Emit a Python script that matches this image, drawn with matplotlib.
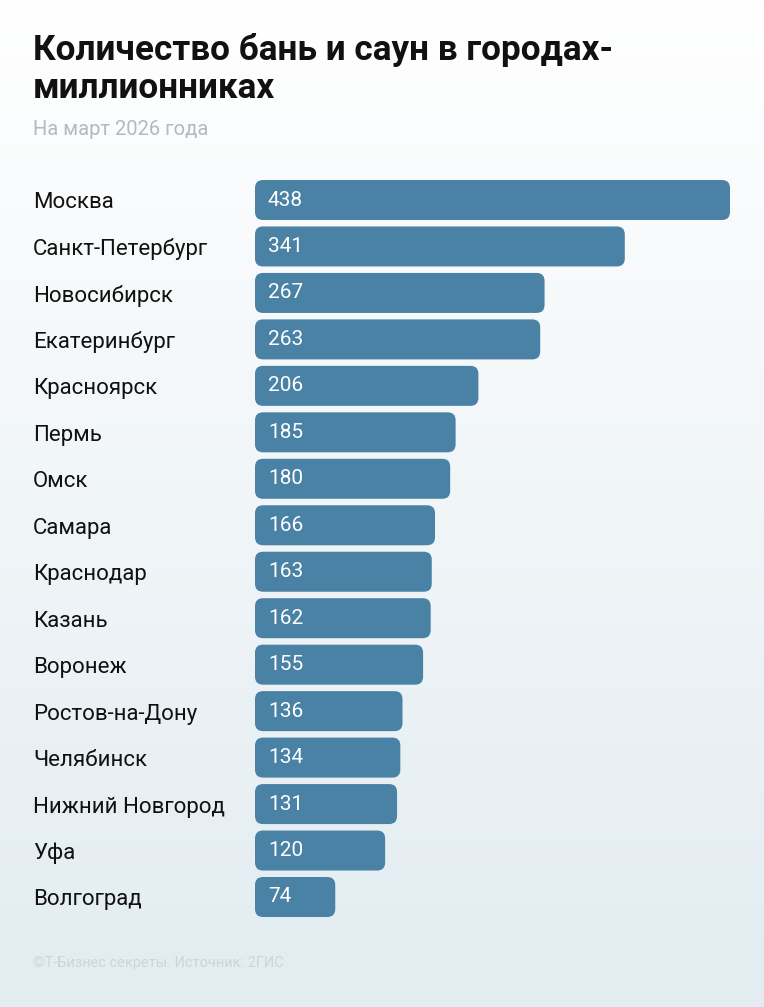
import matplotlib.pyplot as plt
import numpy as np
from matplotlib.patches import FancyBboxPatch
from matplotlib.colors import LinearSegmentedColormap

cities = ["Москва", "Санкт-Петербург", "Новосибирск", "Екатеринбург", "Красноярск",
          "Пермь", "Омск", "Самара", "Краснодар", "Казань", "Воронеж",
          "Ростов-на-Дону", "Челябинск", "Нижний Новгород", "Уфа", "Волгоград"]
counts = [438, 341, 267, 263, 206, 185, 180, 166, 163, 162, 155, 136, 134, 131, 120, 74]

plt.rcParams['font.family'] = ['Roboto', 'DejaVu Sans']
W, H = 764, 1007
fig = plt.figure(figsize=(W / 100, H / 100), dpi=100)

# background gradient
bg = fig.add_axes([0, 0, 1, 1])
grad = np.linspace(0, 1, 256).reshape(-1, 1)
cmap = LinearSegmentedColormap.from_list("bg", ["#ffffff", "#e2ecf1"])
bg.imshow(grad, aspect="auto", cmap=cmap, extent=[0, 1, 0, 1], origin="upper")
bg.axis("off")

step = (897 - 200) / 15
top = 200 - step / 2
bottom = 897 + step / 2
x0, x1 = 255, 730
ax = fig.add_axes([x0 / W, 1 - bottom / H, (x1 - x0) / W, (bottom - top) / H])
ax.set_xlim(0, max(counts))
ax.set_ylim(len(cities) - 0.5, -0.5)
ax.axis("off")

bh = 40 / step
aspect = (1 / step) / (max(counts) / (x1 - x0))
r = 8 * max(counts) / (x1 - x0)
for i, (c, v) in enumerate(zip(cities, counts)):
    p = FancyBboxPatch((0, i - bh / 2), v, bh,
                       boxstyle=f"round,pad=0,rounding_size={r}",
                       mutation_aspect=aspect, fc="#4a82a6", ec="none", clip_on=False)
    ax.add_patch(p)
    ax.text(13 * max(counts) / (x1 - x0), i, str(v), color="white", fontsize=15,
            va="center", ha="left")
    fig.text(33 / W, 1 - (203 + i * step) / H, c, fontsize=16, va="center",
             ha="left", color="#111111")

fig.text(33 / W, 1 - 50 / H, "Количество бань и саун в городах-", fontsize=25.3,
         fontweight="bold", va="center", color="#111111")
fig.text(33 / W, 1 - 88 / H, "миллионниках", fontsize=25.3,
         fontweight="bold", va="center", color="#111111")
fig.text(33 / W, 1 - 130 / H, "На март 2026 года", fontsize=14.5, va="center",
         color="#b3b9bd")
fig.text(33 / W, 1 - 963 / H, "©Т-Бизнес секреты. Источник: 2ГИС", fontsize=10.5,
         va="center", color="#cbd5da")

fig.savefig("out.png", dpi=100)
